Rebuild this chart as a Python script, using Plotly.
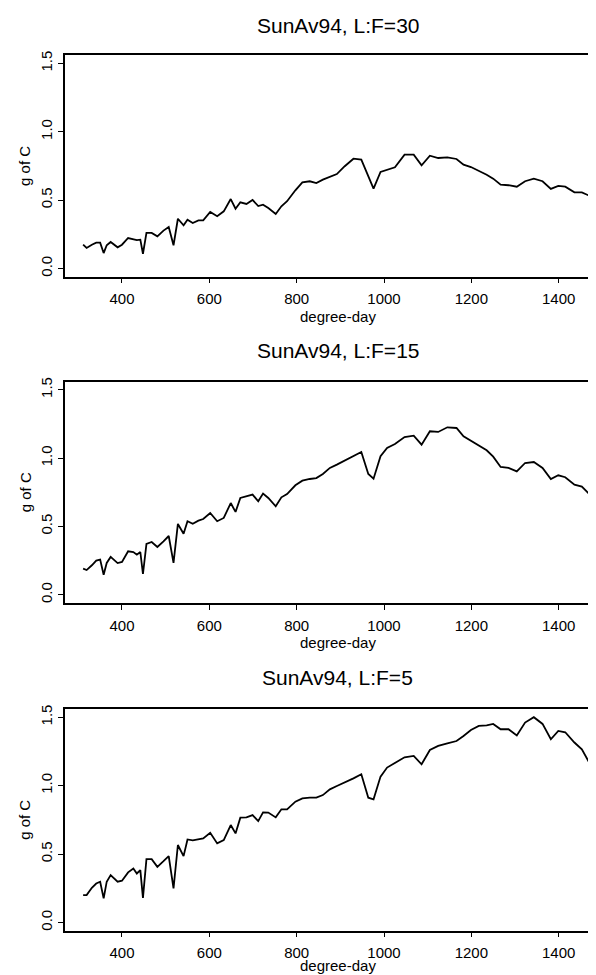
import plotly.graph_objects as go

# ---- data ----
degree_day = [311, 319, 331, 341, 350, 358, 365, 374, 390, 400,
              414, 426, 434, 442, 448, 456, 468, 481, 495, 507,
              518, 528, 541, 550, 562, 575, 586, 602, 618, 633,
              649, 660, 671, 685, 699, 712, 723, 735, 752, 765,
              778, 797, 813, 830, 845, 860, 876, 892, 910, 930,
              948, 964, 976, 992, 1007, 1025, 1047, 1068, 1086, 1105,
              1124, 1145, 1166, 1182, 1199, 1217, 1235, 1250, 1267, 1285,
              1304, 1323, 1343, 1363, 1382, 1399, 1415, 1436, 1453, 1473]

carbon_lf30 = [0.174, 0.150, 0.174, 0.189, 0.189, 0.113, 0.170, 0.194, 0.155, 0.174,
               0.223, 0.213, 0.208, 0.211, 0.108, 0.260, 0.260, 0.235, 0.277, 0.304,
               0.170, 0.364, 0.316, 0.357, 0.333, 0.352, 0.352, 0.413, 0.382, 0.418,
               0.508, 0.437, 0.484, 0.472, 0.501, 0.457, 0.467, 0.443, 0.399, 0.455,
               0.492, 0.572, 0.630, 0.638, 0.625, 0.650, 0.669, 0.691, 0.748, 0.803,
               0.796, 0.674, 0.584, 0.706, 0.723, 0.740, 0.833, 0.833, 0.755, 0.825,
               0.808, 0.813, 0.801, 0.759, 0.742, 0.715, 0.686, 0.657, 0.613, 0.609,
               0.598, 0.638, 0.657, 0.638, 0.582, 0.604, 0.598, 0.557, 0.557, 0.528]

carbon_lf15 = [0.191, 0.181, 0.216, 0.250, 0.257, 0.147, 0.233, 0.277, 0.232, 0.240,
               0.318, 0.313, 0.293, 0.313, 0.152, 0.372, 0.386, 0.350, 0.391, 0.430,
               0.233, 0.518, 0.447, 0.538, 0.520, 0.542, 0.554, 0.598, 0.538, 0.562,
               0.671, 0.606, 0.708, 0.720, 0.733, 0.684, 0.740, 0.708, 0.647, 0.713,
               0.737, 0.801, 0.835, 0.847, 0.854, 0.884, 0.928, 0.952, 0.981, 1.013,
               1.045, 0.884, 0.849, 1.013, 1.074, 1.103, 1.154, 1.164, 1.098, 1.196,
               1.191, 1.225, 1.220, 1.159, 1.127, 1.091, 1.057, 1.010, 0.935, 0.928,
               0.903, 0.964, 0.971, 0.928, 0.847, 0.874, 0.860, 0.805, 0.791, 0.728]

carbon_lf5 = [0.200, 0.200, 0.254, 0.285, 0.298, 0.176, 0.298, 0.346, 0.298, 0.305,
              0.366, 0.395, 0.358, 0.383, 0.180, 0.463, 0.463, 0.407, 0.448, 0.485,
              0.249, 0.566, 0.485, 0.607, 0.600, 0.610, 0.614, 0.656, 0.578, 0.602,
              0.712, 0.651, 0.766, 0.768, 0.785, 0.741, 0.805, 0.803, 0.768, 0.827,
              0.827, 0.883, 0.907, 0.912, 0.912, 0.931, 0.973, 0.997, 1.022, 1.053,
              1.083, 0.912, 0.900, 1.066, 1.132, 1.163, 1.207, 1.217, 1.156, 1.260,
              1.290, 1.309, 1.326, 1.363, 1.407, 1.436, 1.441, 1.451, 1.412, 1.412,
              1.366, 1.461, 1.500, 1.451, 1.339, 1.400, 1.390, 1.315, 1.265, 1.151]

panel_titles = ["SunAv94, L:F=30", "SunAv94, L:F=15", "SunAv94, L:F=5"]
x_ticks = [400, 600, 800, 1000, 1200, 1400]
y_ticks = [0.0, 0.5, 1.0, 1.5]
y_tick_text = ["0.0", "0.5", "1.0", "1.5"]
x_label = "degree-day"
y_label = "g of C"

series = [carbon_lf30, carbon_lf15, carbon_lf5]

# ---- layout geometry (pixels) ----
W, H = 596, 975
ML, MR, MT, MB = 57, 0, 47, 52
PW = W - ML - MR
PH = H - MT - MB
bottom_px = MT + PH

def py(p):
    return (bottom_px - p) / PH

def px(p):
    return (p - ML) / PW

panel_boxes = [(47.2, 268.7), (373.5, 595.0), (701.0, 922.7)]
title_px = [17, 342, 670]
xlab_px = [308, 634, 957]
center_x = px(329.5)

FONT = "Liberation Sans, Arial, Helvetica, sans-serif"

fig = go.Figure()
annotations = []
layout = dict(
    width=W, height=H,
    margin=dict(l=ML, r=MR, t=MT, b=MB, pad=0),
    paper_bgcolor="white", plot_bgcolor="white",
    showlegend=False,
    font=dict(family=FONT, color="black", size=15),
)

for i, (ys, (top, bot)) in enumerate(zip(series, panel_boxes)):
    k = "" if i == 0 else str(i + 1)
    fig.add_trace(go.Scatter(
        x=degree_day, y=ys, mode="lines",
        line=dict(color="black", width=1.8),
        xaxis="x" + k, yaxis="y" + k, hoverinfo="skip",
    ))
    layout["xaxis" + k] = dict(
        domain=[0, 1], anchor="y" + k, range=[269.5, 1503.7],
        tickvals=x_ticks, ticks="outside", ticklen=5, tickwidth=1,
        tickcolor="black", showline=True, linecolor="black", linewidth=1.5,
        mirror=True, showgrid=False, zeroline=False,
        tickfont=dict(size=15, family=FONT, color="black"),
        ticklabelstandoff=3,
    )
    layout["yaxis" + k] = dict(
        domain=[py(bot), py(top)], anchor="x" + k, range=[-0.06, 1.56],
        tickvals=y_ticks, ticktext=y_tick_text, tickangle=-90,
        ticks="outside", ticklen=5, tickwidth=1, tickcolor="black",
        showline=True, linecolor="black", linewidth=1.5, mirror=False,
        showgrid=False, zeroline=False,
        tickfont=dict(size=15, family=FONT, color="black"),
    )
    annotations.append(dict(
        text=panel_titles[i], x=center_x, y=py(title_px[i]),
        xref="paper", yref="paper", showarrow=False,
        xanchor="center", yanchor="middle",
        font=dict(size=21, family=FONT, color="black"),
    ))
    annotations.append(dict(
        text=x_label, x=center_x, y=py(xlab_px[i]),
        xref="paper", yref="paper", showarrow=False,
        xanchor="center", yanchor="middle",
        font=dict(size=15, family=FONT, color="black"),
    ))
    annotations.append(dict(
        text=y_label, x=px(17), y=py((top + bot) / 2),
        xref="paper", yref="paper", showarrow=False, textangle=-90,
        xanchor="center", yanchor="middle",
        font=dict(size=15, family=FONT, color="black"),
    ))

layout["annotations"] = annotations
fig.update_layout(**layout)
fig.write_html("out.html")
